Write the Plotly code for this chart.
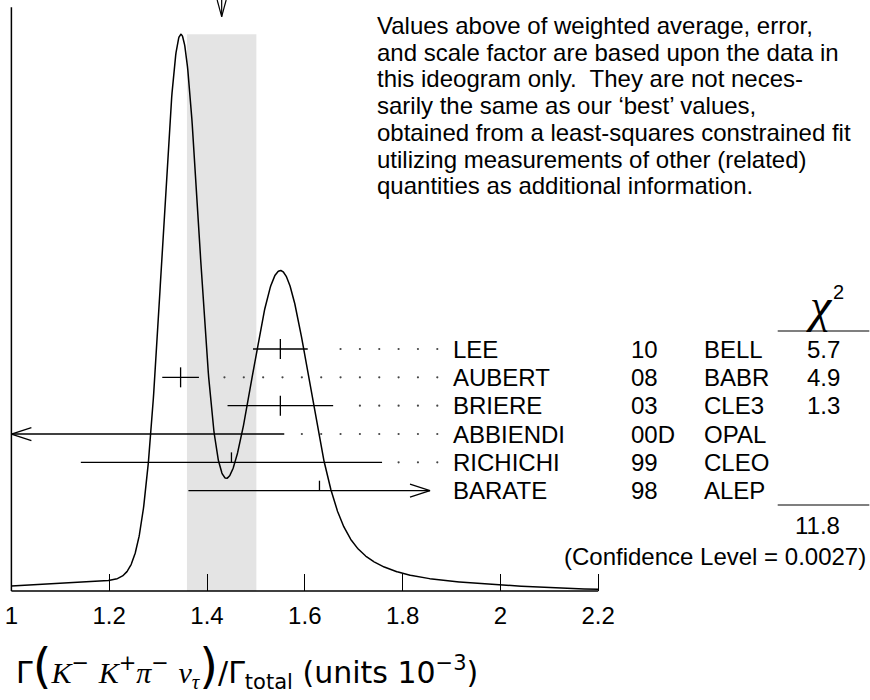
import numpy as np
import plotly.graph_objects as go

# ---------------- data ----------------
names = ["LEE", "AUBERT", "BRIERE", "ABBIENDI", "RICHICHI", "BARATE"]
years = ["10", "08", "03", "00D", "99", "98"]
labs = ["BELL", "BABR", "CLE3", "OPAL", "CLEO", "ALEP"]
values = [1.55, 1.346, 1.55, 0.87, 1.45, 1.63]
errors = [0.056, 0.0375, 0.108, 0.688, 0.308, 0.268]
chi2 = ["5.7", "4.9", "1.3", "", "", ""]
in_average = [True, True, True, False, False, False]
chi2_total = "11.8"
confidence_level = "0.0027"
avg_value = 1.430
avg_error = 0.071
tick_values = [1.0, 1.2, 1.4, 1.6, 1.8, 2.0, 2.2]
tick_labels = ["1", "1.2", "1.4", "1.6", "1.8", "2", "2.2"]
x_min, x_max = 1.0, 2.2
note_lines = [
    "Values above of weighted average, error,",
    "and scale factor are based upon the data in",
    "this ideogram only.  They are not neces-",
    "sarily the same as our \u2018best\u2019 values,",
    "obtained from a least-squares constrained fit",
    "utilizing measurements of other (related)",
    "quantities as additional information.",
]

# ---------------- layout constants ----------------
W, H = 870, 700
BASE_PX = 591.0          # pixel row of the x axis line (bottom of plot area)
X0_PX = 11.4             # pixel column of x = x_min
PX_PER_UNIT = 489.0
ROW0_PX = 349.0
ROW_STEP = 28.34
PEAK_PX = 34.3
FONT = "Liberation Sans, Arial, sans-serif"


def xv(px):
    return x_min + (px - X0_PX) / PX_PER_UNIT


def xp(px):
    return px / W


def yp(px):
    return (BASE_PX - px) / BASE_PX


x_lo_range = xv(0)
x_hi_range = xv(W)
y2_range = [-(BASE_PX - ROW0_PX) / ROW_STEP, ROW0_PX / ROW_STEP]
px_per_row_unit = ROW_STEP

# ---------------- ideogram ----------------
xs = np.linspace(x_min, x_max, 1601)
ys = np.zeros_like(xs)
for m, s in zip(values, errors):
    ys += (1.0 / s) * np.exp(-0.5 * ((xs - m) / s) ** 2) / (s * np.sqrt(2 * np.pi))
peak = ys.max()
y_top = peak * BASE_PX / (BASE_PX - PEAK_PX)

fig = go.Figure()
fig.add_trace(go.Scatter(x=xs, y=ys, mode="lines", line=dict(color="black", width=1.5),
                         hoverinfo="skip", showlegend=False))

# ---------------- measurements ----------------
arrow_max = xv(430.0)
tick_h = 10.0 / px_per_row_unit
head_len = 20.0 / PX_PER_UNIT
head_w = 6.5 / px_per_row_unit
dot_last = xv(437.3)
dot_step = 19.35 / PX_PER_UNIT
dot_gap = 14.0 / PX_PER_UNIT

lx, ly = [], []
dx, dy = [], []
for i, (m, s) in enumerate(zip(values, errors)):
    r = -i
    lo, hi = m - s, m + s
    left_arrow = lo < x_min
    right_arrow = hi > arrow_max
    lo = max(lo, x_min)
    hi = min(hi, arrow_max)
    lx += [lo, hi, None]
    ly += [r, r, None]
    if left_arrow:
        lx += [lo + head_len, lo, lo + head_len, None]
        ly += [r + head_w, r, r - head_w, None]
    if right_arrow:
        lx += [hi - head_len, hi, hi - head_len, None]
        ly += [r + head_w, r, r - head_w, None]
    if x_min <= m <= x_max:
        lx += [m, m, None]
        ly += [r - tick_h if in_average[i] else r, r + tick_h, None]
    # dotted leader
    if not right_arrow:
        d = dot_last
        while d - hi >= dot_gap:
            dx.append(d)
            dy.append(r)
            d -= dot_step

fig.add_trace(go.Scatter(x=lx, y=ly, yaxis="y2", mode="lines",
                         line=dict(color="black", width=1.3), hoverinfo="skip",
                         showlegend=False, cliponaxis=False))
fig.add_trace(go.Scatter(x=dx, y=dy, yaxis="y2", mode="markers",
                         marker=dict(color="#444", size=2.2, line=dict(width=0)),
                         hoverinfo="skip", showlegend=False))

# ---------------- shapes ----------------
shapes = [
    dict(type="rect", xref="x", yref="y", x0=avg_value - avg_error, x1=avg_value + avg_error,
         y0=0, y1=peak, fillcolor="#e4e4e4", line=dict(width=0), layer="below"),
    dict(type="line", xref="x", yref="paper", x0=x_min, x1=x_max, y0=0, y1=0,
         line=dict(color="black", width=1.5)),
    dict(type="line", xref="x", yref="paper", x0=x_min, x1=x_min, y0=0, y1=yp(7.3),
         line=dict(color="black", width=1.5)),
    # weighted-average arrow at top
    dict(type="line", xref="x", yref="paper", x0=avg_value, x1=avg_value, y0=1.0, y1=yp(16.7),
         line=dict(color="black", width=1.2)),
    dict(type="line", xref="x", yref="paper", x0=avg_value - 4.5 / PX_PER_UNIT, x1=avg_value,
         y0=1.0, y1=yp(16.7), line=dict(color="black", width=1.2)),
    dict(type="line", xref="x", yref="paper", x0=avg_value + 4.5 / PX_PER_UNIT, x1=avg_value,
         y0=1.0, y1=yp(16.7), line=dict(color="black", width=1.2)),
    # chi2 column rules
    dict(type="line", xref="paper", yref="paper", x0=xp(777.7), x1=xp(869.3), y0=yp(331), y1=yp(331),
         line=dict(color="black", width=1.2)),
    dict(type="line", xref="paper", yref="paper", x0=xp(777.7), x1=xp(869.3), y0=yp(505), y1=yp(505),
         line=dict(color="black", width=1.2)),
]

# ---------------- annotations ----------------
ann = []
tf = dict(family=FONT, size=24, color="black")
for k, line in enumerate(note_lines):
    ann.append(dict(x=xp(375), y=yp(25.5 + 26.7 * k), xref="paper", yref="paper", text=line,
                    xanchor="left", yanchor="middle", showarrow=False, font=tf))
for i in range(len(names)):
    for txt, px, anc in ((names[i], 451, "left"), (years[i], 629.3, "left"),
                         (labs[i], 701.7, "left"), (chi2[i], 842.3, "right")):
        if txt:
            ann.append(dict(x=xp(px), y=-i, xref="paper", yref="y2", text=txt,
                            xanchor=anc, yanchor="middle", showarrow=False, font=tf))
ann.append(dict(x=xp(842.3), y=yp(525), xref="paper", yref="paper", text=chi2_total,
                xanchor="right", yanchor="middle", showarrow=False, font=tf))
ann.append(dict(x=xp(868), y=yp(556), xref="paper", yref="paper",
                text="(Confidence Level = " + confidence_level + ")",
                xanchor="right", yanchor="middle", showarrow=False, font=tf))
ann.append(dict(x=xp(819), y=yp(305), xref="paper", yref="paper", text="<i>\u03c7</i>",
                xanchor="center", yanchor="middle", showarrow=False,
                font=dict(family="Liberation Serif, serif", size=48, color="black")))
ann.append(dict(x=xp(838), y=yp(292), xref="paper", yref="paper", text="2",
                xanchor="center", yanchor="middle", showarrow=False,
                font=dict(family=FONT, size=20, color="black")))

M = "<span style='font-family:Liberation Serif'><i>%s</i></span>"
BIG = "<span style='font-size:48px'>%s</span>"
title = ("\u0393" + BIG % "(" + M % "K" + "<sup>\u2212</sup> " + M % "K" + "<sup>+</sup>"
         + M % "\u03c0" + "<sup>\u2212</sup> " + M % "\u03bd" + "<sub>" + M % "\u03c4" + "</sub>"
         + BIG % ")" + "/\u0393<sub>total</sub> (units 10<sup>\u22123</sup>)")
ann.append(dict(x=xp(14), y=yp(666), xref="paper", yref="paper", text=title,
                xanchor="left", yanchor="middle", showarrow=False,
                font=dict(family="DejaVu Sans, sans-serif", size=30, color="black")))

fig.update_layout(
    width=W, height=H,
    margin=dict(l=0, r=0, t=0, b=H - BASE_PX),
    paper_bgcolor="white", plot_bgcolor="white",
    showlegend=False,
    xaxis=dict(range=[x_lo_range, x_hi_range], tickvals=tick_values, ticktext=tick_labels,
               ticks="inside", ticklen=17, tickwidth=1.3, tickcolor="black",
               ticklabelstandoff=8,
               showgrid=False, zeroline=False, showline=False,
               tickfont=dict(family=FONT, size=24, color="black")),
    yaxis=dict(range=[0, y_top], visible=False, showgrid=False, zeroline=False),
    yaxis2=dict(range=y2_range, overlaying="y", visible=False, showgrid=False, zeroline=False),
    shapes=shapes, annotations=ann,
)

fig.write_html("out.html", config={"displayModeBar": False},
               post_script="document.body.style.margin='0';document.body.style.overflow='hidden';")
